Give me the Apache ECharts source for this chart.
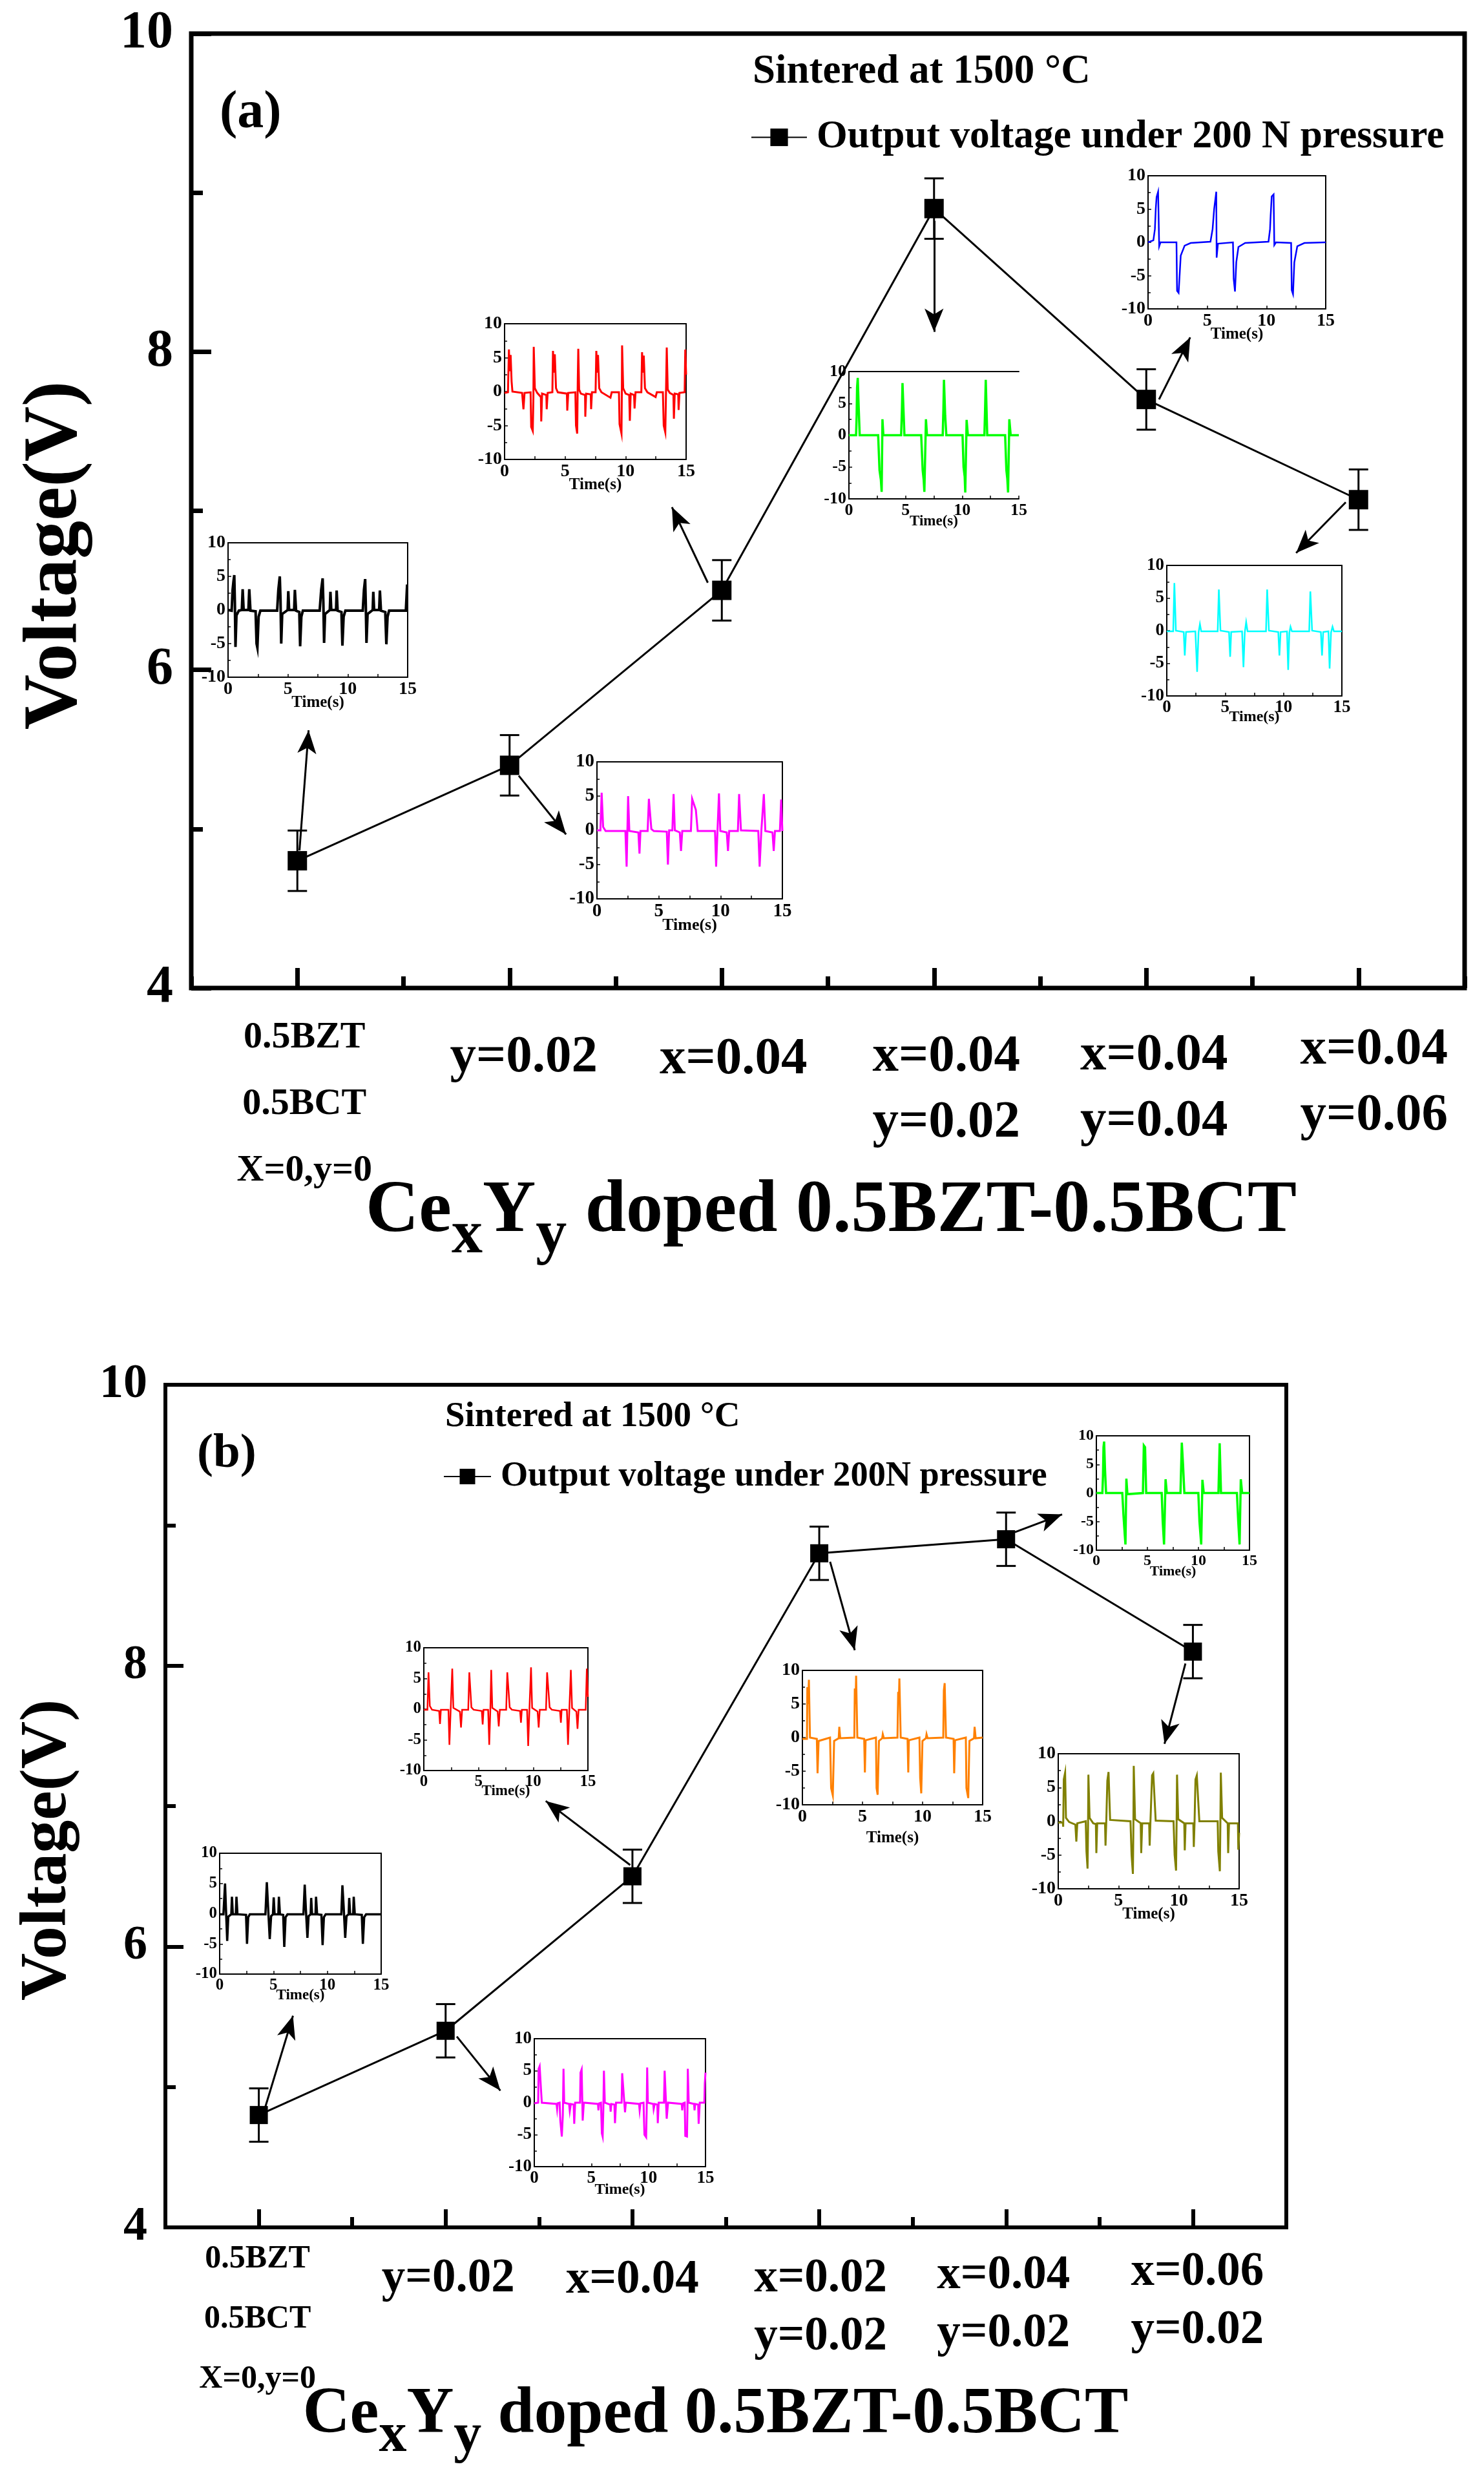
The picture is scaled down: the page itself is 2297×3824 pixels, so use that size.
<!DOCTYPE html>
<html>
<head>
<meta charset="utf-8">
<style>html,body{margin:0;padding:0;background:#fff}#c{width:2297px;height:3824px}</style>
<script src="https://cdn.jsdelivr.net/npm/echarts@6/dist/echarts.min.js"></script>
</head>
<body>
<div id="c"></div>
<script>
// ---- Main panel values ----
const categoriesA = ['0.5BZT\n0.5BCT\nX=0,y=0', 'y=0.02', 'x=0.04', 'x=0.04\ny=0.02', 'x=0.04\ny=0.04', 'x=0.04\ny=0.06'];
const categoriesB = ['0.5BZT\n0.5BCT\nX=0,y=0', 'y=0.02', 'x=0.04', 'x=0.02\ny=0.02', 'x=0.04\ny=0.02', 'x=0.06\ny=0.02'];
const voltageA = [4.8, 5.4, 6.5, 8.9, 7.7, 7.07];
const voltageB = [4.8, 5.4, 6.5, 8.8, 8.9, 8.1];
const errorA = [0.19, 0.19, 0.19, 0.19, 0.19, 0.19];
const errorB = [0.19, 0.19, 0.19, 0.19, 0.19, 0.19];
const arrowsA = [[0.01,4.865,0.053,5.62],[1.043,5.335,1.266,4.966],[1.934,6.548,1.765,7.023],[3.0,8.823,3.0,8.125],[4.06,7.70,4.207,8.09],[4.94,7.054,4.706,6.735]];
const arrowsB = [[0.03,4.836,0.183,5.507],[1.06,5.359,1.293,4.974],[1.988,6.58,1.536,7.036],[3.058,8.74,3.19,8.11],[4.047,8.95,4.3,9.077],[4.96,8.015,4.848,7.443]];

// ---- Inset traces: [time, voltage] ----
const traceBlackA = [[0,0],[0.3,-0.1],[0.38,3],[0.45,4.2],[0.52,5.2],[0.57,1],[0.62,-5.5],[0.7,-0.8],[0.9,-0.1],[1.15,0],[1.22,3.1],[1.3,0],[1.7,0],[1.77,3.1],[1.87,-0.1],[2.3,-0.2],[2.38,-5],[2.45,-5.6],[2.55,-1],[2.7,-0.1],[4.1,-0.1],[4.2,3],[4.32,5],[4.38,1.5],[4.44,-5],[4.52,-0.6],[4.98,0],[5.03,2.8],[5.1,0],[5.52,0],[5.58,3],[5.68,-0.1],[5.95,-0.3],[6.02,-5.4],[6.12,-1],[6.25,-0.1],[7.65,-0.1],[7.78,3],[7.9,4.7],[7.96,1],[8.02,-4.9],[8.1,-0.6],[8.5,0],[8.55,2.7],[8.62,0],[9.02,0],[9.07,2.9],[9.15,-0.1],[9.47,-0.3],[9.55,-5.3],[9.65,-1],[9.8,-0.1],[11.25,-0.1],[11.35,3],[11.45,4.6],[11.5,1],[11.56,-4.9],[11.65,-0.6],[12.08,0],[12.13,2.7],[12.2,0],[12.62,0],[12.68,2.9],[12.77,-0.1],[13.13,-0.3],[13.22,-5.1],[13.32,-1],[13.45,-0.1],[14.85,-0.1],[14.95,3.6],[15,3.6]];
const traceRedA = [[0,-0.2],[0.28,-0.1],[0.36,6.2],[0.42,3],[0.5,5.4],[0.58,1.5],[0.65,0],[1.45,-0.2],[1.56,-2.6],[1.65,-0.2],[2.15,-0.1],[2.2,-5.2],[2.33,-5.8],[2.38,-1],[2.41,6.6],[2.5,0.5],[2.7,-0.2],[3.0,-0.8],[3.03,-4.4],[3.1,-0.3],[3.45,-0.5],[3.48,-2.6],[3.56,-0.2],[3.95,-0.1],[4.0,6],[4.08,2.8],[4.15,5.5],[4.25,0.5],[4.4,-0.1],[5.15,-0.3],[5.18,-2.8],[5.26,-0.2],[5.85,-0.1],[5.9,-5],[6.0,-6.2],[6.05,2],[6.09,6.3],[6.16,0.3],[6.3,-0.3],[6.65,-0.5],[6.67,-3.7],[6.74,-0.3],[7.12,-0.4],[7.15,-2.6],[7.22,-0.1],[7.52,-0.1],[7.58,6],[7.65,2.8],[7.72,5.4],[7.82,0.5],[8.0,-0.1],[8.75,-0.9],[8.85,-0.1],[9.45,-0.1],[9.5,-4.8],[9.66,-6.2],[9.69,0],[9.71,6.8],[9.8,0.5],[10.0,-0.3],[10.3,-0.5],[10.35,-4.3],[10.42,-0.3],[10.7,-0.5],[10.74,-2.5],[10.82,-0.1],[11.3,-0.1],[11.36,5.8],[11.43,2.8],[11.5,5.3],[11.6,0.5],[11.8,-0.1],[12.48,-0.8],[12.58,-0.1],[13.08,-0.1],[13.15,-5],[13.28,-6],[13.33,-1],[13.4,6.5],[13.48,0.3],[13.65,-0.2],[13.95,-0.5],[13.99,-4],[14.06,-0.3],[14.35,-0.4],[14.38,-2.7],[14.45,-0.2],[14.88,-0.1],[14.93,6.2],[15,2.5]];
const traceGreenA = [[0,0],[0.63,0],[0.68,3],[0.72,7.5],[0.78,9],[0.85,5],[0.95,0],[2.58,0],[2.7,-5.5],[2.82,-7],[2.89,-8.9],[2.96,2.5],[3.04,0],[4.61,0],[4.68,4],[4.73,8.2],[4.82,8],[4.9,0],[6.38,0],[6.51,-5.5],[6.6,-7],[6.66,-8.9],[6.8,2.5],[6.89,0],[8.28,0],[8.34,4],[8.39,8.7],[8.5,3],[8.6,0],[10.03,0],[10.12,-5],[10.22,-6.5],[10.27,-9],[10.39,2.4],[10.5,0],[11.96,0],[12.02,4],[12.08,8.7],[12.21,0],[13.79,0],[13.9,-5.5],[13.98,-6.8],[14.05,-9],[14.16,2.5],[14.28,0],[15,0]];
const traceBlueA = [[0,0],[0.45,0.3],[0.58,2],[0.65,5],[0.72,6.8],[0.85,7.6],[0.94,-0.6],[1.05,0],[2.4,0],[2.45,-7.3],[2.58,-7.6],[2.76,-2],[3.09,-0.5],[3.6,-0.1],[5.27,0.1],[5.45,2],[5.58,5],[5.76,7.6],[5.79,-2.3],[5.9,-0.2],[7.17,0],[7.23,-5.5],[7.34,-7.4],[7.45,-3],[7.63,-0.7],[8.2,-0.1],[10.17,0.1],[10.3,2],[10.35,4],[10.44,6.9],[10.6,7.2],[10.66,-0.4],[10.8,0],[12.08,-0.1],[12.13,-7.2],[12.24,-7.8],[12.35,-3],[12.6,-0.6],[13.2,-0.1],[15,0]];
const traceMagentaA = [[0,0],[0.28,0],[0.38,5.5],[0.5,0.5],[0.7,-0.1],[2.3,-0.1],[2.4,-5.3],[2.52,5],[2.62,-0.1],[3.35,-0.3],[3.44,-3.4],[3.52,-0.1],[4.1,-0.1],[4.2,4.6],[4.4,0.2],[4.6,-0.1],[5.65,-0.2],[5.74,-5],[5.84,0],[6.1,0],[6.2,5.3],[6.3,0],[6.7,-0.3],[6.8,-3],[6.9,-0.1],[7.6,-0.1],[7.7,4.6],[8.0,3],[8.15,-0.1],[9.55,-0.1],[9.64,-5.3],[9.75,-0.1],[9.87,5.4],[9.98,-0.1],[10.5,-0.3],[10.6,-3],[10.7,-0.1],[11.4,-0.1],[11.5,5.3],[11.65,0],[13.05,-0.1],[13.16,-5.3],[13.3,0],[13.5,5.3],[13.62,-0.1],[14.2,-0.3],[14.3,-3],[14.4,-0.1],[14.8,-0.1],[14.9,4.5],[15,-0.1]];
const traceCyanA = [[0,-0.1],[0.55,-0.1],[0.65,7.3],[0.78,0],[1.45,-0.2],[1.54,-3.8],[1.65,-0.2],[2.45,-0.1],[2.6,-6.3],[2.72,-0.3],[2.84,1],[2.95,-0.1],[4.36,-0.1],[4.46,6.3],[4.6,0],[5.33,-0.2],[5.43,-4],[5.52,-0.2],[6.45,-0.1],[6.57,-5.6],[6.68,-0.3],[6.8,1.3],[6.92,-0.1],[8.5,-0.1],[8.6,6.3],[8.75,0],[9.55,-0.2],[9.65,-3.8],[9.75,-0.2],[10.3,-0.1],[10.4,-6],[10.5,-0.3],[10.6,0.6],[10.72,-0.1],[12.2,-0.1],[12.3,6],[12.45,0],[13.2,-0.2],[13.3,-3.8],[13.4,-0.2],[13.85,-0.1],[13.95,-5.8],[14.07,-0.3],[14.2,0.6],[14.32,-0.1],[15,-0.1]];
const traceBlackB = [[0,-0.1],[0.35,-0.1],[0.5,5],[0.58,1],[0.7,-4.5],[0.8,-0.5],[1.08,-0.1],[1.14,2.8],[1.22,-0.1],[1.5,-0.1],[1.56,2.8],[1.65,-0.1],[2.45,-0.2],[2.54,-5],[2.65,-0.6],[2.8,-0.1],[4.25,-0.1],[4.38,5.2],[4.5,1],[4.65,-4.2],[4.78,-0.4],[4.95,-0.1],[5.02,2.7],[5.1,-0.1],[5.45,-0.1],[5.5,2.8],[5.6,-0.1],[5.9,-0.2],[6,-5.5],[6.12,-0.6],[6.3,-0.1],[7.78,-0.1],[7.9,4.8],[8,1],[8.15,-4],[8.26,-0.4],[8.45,-0.1],[8.5,2.6],[8.58,-0.1],[8.9,-0.1],[8.95,2.8],[9.05,-0.1],[9.45,-0.2],[9.56,-5.2],[9.68,-0.6],[9.85,-0.1],[11.3,-0.1],[11.4,4.7],[11.52,1],[11.66,-4],[11.78,-0.4],[11.98,-0.1],[12.03,2.6],[12.12,-0.1],[12.4,-0.1],[12.45,2.8],[12.55,-0.1],[13.2,-0.2],[13.3,-5],[13.42,-0.6],[13.6,-0.1],[15,-0.1]];
const traceRedB = [[0,-0.1],[0.33,-0.1],[0.43,6],[0.55,0.5],[0.75,-0.1],[1.4,-0.3],[1.48,-2.4],[1.56,-0.1],[2.25,-0.1],[2.34,-5.8],[2.45,-0.3],[2.6,6.6],[2.7,0.2],[3.3,-0.4],[3.4,-3],[3.5,-0.1],[4.06,-0.1],[4.16,6],[4.35,0.3],[4.55,-0.1],[5.3,-0.3],[5.38,-2.5],[5.46,-0.1],[5.88,-0.1],[5.98,-5.8],[6.08,-0.2],[6.16,6.4],[6.26,0.2],[6.75,-0.4],[6.85,-2.8],[6.95,-0.1],[7.53,-0.1],[7.63,6],[7.85,0.3],[8.05,-0.1],[8.8,-0.3],[8.88,-2.2],[8.96,-0.1],[9.44,-0.1],[9.54,-6],[9.65,-0.2],[9.8,6.8],[9.9,0.2],[10.4,-0.4],[10.5,-3],[10.6,-0.1],[11.17,-0.1],[11.27,6],[11.5,0.3],[11.7,-0.1],[12.45,-0.3],[12.53,-2.2],[12.6,-0.1],[13.08,-0.1],[13.18,-5.8],[13.3,-0.2],[13.44,6.4],[13.55,0.2],[13.95,-0.4],[14.05,-3.2],[14.15,-0.1],[14.8,-0.1],[14.9,6.6],[15,2]];
const traceMagentaB = [[0,-0.1],[0.34,0],[0.38,5.3],[0.47,5.7],[0.58,2.3],[0.66,0],[1.95,-0.2],[2,-1],[2.05,-0.1],[2.22,0],[2.28,-2.8],[2.41,-5.3],[2.5,-2],[2.56,5.3],[2.62,0],[3.05,-0.2],[3.11,-1.3],[3.2,-0.2],[3.45,-0.3],[3.5,-3.3],[3.58,0],[4.01,0],[4.05,4.7],[4.15,5.2],[4.24,-2.8],[4.34,0],[5.58,-0.2],[5.62,-1.2],[5.68,-0.1],[5.84,0],[5.92,-4.8],[5.99,-5.3],[6.05,-1],[6.1,5],[6.18,0],[6.65,-0.3],[6.69,-1.4],[6.75,-0.2],[7.02,-0.3],[7.07,-3.2],[7.16,0],[7.65,0],[7.7,4.6],[7.78,4.4],[7.95,-1.5],[8.02,0],[9.18,-0.2],[9.23,-1.2],[9.3,-0.1],[9.57,0],[9.65,-5],[9.8,-5.4],[9.85,-1],[9.89,5.5],[9.95,0],[10.42,-0.2],[10.46,-1],[10.55,-0.2],[10.78,-0.3],[10.82,-3.2],[10.9,0],[11.36,0],[11.42,5],[11.5,5],[11.6,-2.5],[11.72,0],[12.92,-0.2],[12.96,-1.2],[13.03,-0.1],[13.18,0],[13.23,-5.2],[13.38,-5.3],[13.42,-1],[13.45,5.3],[13.53,0],[14,-0.2],[14.04,-1.2],[14.1,-0.2],[14.36,-0.3],[14.4,-3.3],[14.5,0],[14.9,0],[14.94,3],[15,4.7]];
const traceOrangeB = [[0,-0.2],[0.38,-0.2],[0.41,7.5],[0.47,5],[0.54,8.6],[0.63,0],[1.2,-0.2],[1.26,-5.3],[1.35,-0.5],[2.3,0],[2.39,-7.5],[2.53,-8.6],[2.64,-0.5],[3.02,-0.1],[3.07,1.6],[3.15,-0.1],[4.32,0],[4.36,7.3],[4.42,5],[4.47,9.2],[4.57,0],[5.14,-0.2],[5.2,-5.2],[5.26,-0.4],[6.12,0],[6.17,-7.5],[6.26,-8.5],[6.37,-0.5],[6.64,-0.1],[6.69,0.5],[6.78,-0.1],[7.91,0],[7.97,6.8],[8.02,5],[8.07,8.8],[8.18,0],[8.75,-0.2],[8.81,-5.2],[8.86,-0.4],[9.74,0],[9.8,-6],[9.89,-8.3],[9.99,-0.5],[10.28,-0.1],[10.33,0.5],[10.42,-0.1],[11.72,0],[11.77,7],[11.84,8.1],[11.95,0],[12.58,-0.2],[12.63,-5.3],[12.7,-0.4],[13.6,0],[13.65,-7.5],[13.8,-9],[13.9,-0.5],[14.28,-0.1],[14.33,1.6],[14.42,-0.1],[15,0]];
const traceGreenB = [[0,0],[0.59,0],[0.65,3],[0.7,8],[0.76,9],[0.85,4],[0.95,0],[2.54,0],[2.66,-4],[2.79,-7.5],[2.85,-9],[2.94,2.5],[3.04,-0.2],[4.56,0],[4.65,8.3],[4.77,8],[4.88,0],[6.4,0],[6.5,-5],[6.63,-9],[6.78,2.4],[6.9,0],[8.24,0],[8.37,8.8],[8.49,5],[8.62,0],[9.99,0],[10.1,-5],[10.27,-9],[10.39,2.3],[10.52,0],[11.96,0],[12.08,8.7],[12.21,0],[13.77,0],[13.9,-5],[14.03,-9],[14.15,2.4],[14.28,0],[15,0]];
const traceOliveB = [[0,-0.2],[0.38,-0.2],[0.41,-0.8],[0.46,6.2],[0.57,7.2],[0.64,0.5],[0.9,-0.1],[1.42,-0.5],[1.5,-3],[1.58,-0.3],[2.28,0],[2.34,-4.5],[2.43,-7],[2.47,-1],[2.5,6.9],[2.6,0.5],[2.9,-0.3],[3.12,-0.4],[3.16,-4.7],[3.23,-0.3],[3.88,-0.3],[3.92,-3.6],[3.98,-0.3],[4.07,6],[4.17,7.3],[4.3,0.2],[5.99,0],[6.08,-5],[6.19,-7.8],[6.23,-1],[6.26,8.2],[6.37,0.3],[6.84,-0.3],[6.88,-4.7],[6.96,-0.3],[7.54,-0.3],[7.58,-3.6],[7.64,-0.3],[7.78,6.8],[7.88,7.1],[8.08,0.1],[9.56,0],[9.65,-5],[9.77,-7.3],[9.81,-1],[9.85,6.9],[9.95,0.3],[10.45,-0.3],[10.49,-4.3],[10.56,-0.3],[11.2,-0.3],[11.24,-3.8],[11.3,-0.3],[11.38,6.2],[11.49,6.8],[11.7,0],[13.22,0],[13.27,-4.5],[13.4,-7.4],[13.44,-1],[13.48,7.2],[13.59,0.5],[14.05,-0.3],[14.09,-4.7],[14.16,-0.3],[14.9,-0.3],[14.93,-4.2],[15,-1.7]];

// ---- Layout (kept apart from the data) ----
const serif = '"Liberation Serif","Times New Roman",serif';
const panels = [
  {grid:{left:296,top:52,width:1971,height:1477}, cats:categoriesA, v:voltageA, err:errorA, arrows:arrowsA, name:'Output voltage under 200 N pressure',
   frame:7, tick:31, minor:18, tickFont:82, nameFont:118, nameGap:150, namePad:[0,138,0,0], titleFont:114, titleSub:96, titleDrop:46, titleGap:290, titlePad:[0,0,0,10],
   first:{font:58,lh:103,pad:[26,0,0,22]}, lab:{font:81,lh:102}, pads:[[0,0,0,0],[57,0,0,44],[60,0,0,36],[56,0,0,38],[54,0,0,24],[45,0,0,48]],
   sq:30, legend:{left:1162,top:182,w:86,h:34,font:61.4}},
  {grid:{left:256,top:2143,width:1735,height:1304}, cats:categoriesB, v:voltageB, err:errorB, arrows:arrowsB, name:'Output voltage under 200N pressure',
   frame:6, tick:28, minor:16, tickFont:74, nameFont:102, nameGap:130, namePad:[0,136,0,0], titleFont:101, titleSub:86, titleDrop:41, titleGap:240, titlePad:[0,32,0,0],
   first:{font:50,lh:93,pad:[3,4,0,0]}, lab:{font:73,lh:90}, pads:[[0,0,0,0],[35,0,0,8],[37,0,0,0],[35,0,0,4],[30,8,0,0],[25,0,0,14]],
   sq:28, legend:{left:686,top:2258,w:73,h:30,font:54.3}}
];
const insets = [
  {d:traceBlackA,  c:'#000000', lw:4,   box:[353,840,278,208],  gap:27},
  {d:traceRedA,    c:'#ff0000', lw:3,   box:[781,501,281,210],  gap:27},
  {d:traceGreenA,  c:'#00ff00', lw:3.5, box:[1314,575,263,197], gap:24, noRight:true},
  {d:traceBlueA,   c:'#0000ff', lw:2.5, box:[1777,272,275,206], gap:27},
  {d:traceMagentaA,c:'#ff00ff', lw:3,   box:[924,1179,287,212], gap:28},
  {d:traceCyanA,   c:'#00ffff', lw:2.5, box:[1806,875,271,202], gap:21},
  {d:traceBlackB,  c:'#000000', lw:3.5, box:[340,2868,250,187], gap:22},
  {d:traceRedB,    c:'#ff0000', lw:2.5, box:[656,2550,254,190], gap:21},
  {d:traceMagentaB,c:'#ff00ff', lw:3,   box:[827,3155,265,198], gap:24},
  {d:traceOrangeB, c:'#ff8000', lw:3,   box:[1242,2585,279,208],gap:39},
  {d:traceGreenB,  c:'#00ff00', lw:3.5, box:[1697,2222,237,177],gap:22},
  {d:traceOliveB,  c:'#808000', lw:3,   box:[1638,2714,280,209],gap:27}
];

const grids=[], xAxes=[], yAxes=[], series=[], legends=[];

function errRender(params, api){
  const x=api.value(0), lo=api.value(1), hi=api.value(2);
  const a=api.coord([x,lo]), b=api.coord([x,hi]);
  const s={stroke:'#000',lineWidth:3,fill:'none'}, w=15;
  return {type:'group',children:[
    {type:'line',shape:{x1:a[0],y1:a[1],x2:b[0],y2:b[1]},style:s},
    {type:'line',shape:{x1:a[0]-w,y1:a[1],x2:a[0]+w,y2:a[1]},style:s},
    {type:'line',shape:{x1:b[0]-w,y1:b[1],x2:b[0]+w,y2:b[1]},style:s}
  ]};
}

panels.forEach((p)=>{
  const g=grids.length;
  grids.push({left:p.grid.left,top:p.grid.top,width:p.grid.width,height:p.grid.height,show:true,backgroundColor:'transparent',borderColor:'#000',borderWidth:p.frame,containLabel:false,outerBoundsMode:'none'});
  const xMain=xAxes.length;
  const data=p.cats.map((c,i)=>{
    const f=i===0?p.first:p.lab;
    return {value:c,textStyle:{fontSize:f.font,lineHeight:f.lh,padding:i===0?p.first.pad:p.pads[i]}};
  });
  xAxes.push({type:'category',gridIndex:g,data:data,position:'bottom',
    axisLine:{show:false,onZero:false},
    axisTick:{show:true,inside:true,alignWithLabel:true,length:p.tick,lineStyle:{color:'#000',width:p.frame}},
    axisLabel:{show:true,interval:0,margin:0,color:'#000',fontFamily:serif,fontWeight:'bold',fontSize:p.lab.font,verticalAlign:'top',hideOverlap:false},
    splitLine:{show:false},
    name:'{a|Ce}{s|x}{a|Y}{s|y}{a| doped 0.5BZT-0.5BCT}',nameLocation:'middle',nameGap:p.titleGap,nameMoveOverlap:false,
    nameTextStyle:{padding:p.titlePad,rich:{
      a:{fontFamily:serif,fontWeight:'bold',fontSize:p.titleFont,lineHeight:p.titleFont*1.05,verticalAlign:'top',color:'#000'},
      s:{fontFamily:serif,fontWeight:'bold',fontSize:p.titleSub,lineHeight:p.titleSub,verticalAlign:'top',padding:[p.titleDrop,0,0,0],color:'#000'}
    }}
  });
  xAxes.push({type:'category',gridIndex:g,data:p.cats.map(c=>c),position:'bottom',
    axisLine:{show:false,onZero:false},axisLabel:{show:false},splitLine:{show:false},
    axisTick:{show:true,inside:true,alignWithLabel:false,interval:0,length:p.minor,lineStyle:{color:'#000',width:p.frame}}});
  const xHidden=xAxes.length;
  xAxes.push({type:'value',gridIndex:g,min:-0.5,max:5.5,show:false,splitLine:{show:false}});
  const yIdx=yAxes.length;
  yAxes.push({type:'value',gridIndex:g,min:4,max:10,interval:2,position:'left',
    axisLine:{show:false,onZero:false},
    axisTick:{show:true,inside:true,length:p.tick,lineStyle:{color:'#000',width:p.frame}},
    minorTick:{show:true,splitNumber:2,length:p.minor,lineStyle:{color:'#000',width:p.frame}},
    axisLabel:{color:'#000',fontFamily:serif,fontWeight:'bold',fontSize:p.tickFont,margin:28,showMinLabel:true,showMaxLabel:true},
    splitLine:{show:false},minorSplitLine:{show:false},
    name:'Voltage(V)',nameLocation:'middle',nameGap:p.nameGap,nameMoveOverlap:false,
    nameTextStyle:{color:'#000',fontFamily:serif,fontWeight:'bold',fontSize:p.nameFont,padding:p.namePad}
  });
  series.push({type:'custom',xAxisIndex:xHidden,yAxisIndex:yIdx,z:3,animation:false,silent:true,renderItem:errRender,
    data:p.v.map((v,i)=>[i,v-p.err[i],v+p.err[i]]),encode:{x:0,y:[1,2]},
    markLine:{silent:true,animation:false,symbol:['none','arrow'],symbolSize:[22,36],precision:4,
      lineStyle:{color:'#000',type:'solid',width:3},label:{show:false},
      data:p.arrows.map(a=>[{coord:[a[0],a[1]]},{coord:[a[2],a[3]]}])}});
  series.push({type:'line',name:p.name,xAxisIndex:xMain,yAxisIndex:yIdx,data:p.v,z:4,animation:false,
    symbol:'rect',symbolSize:p.sq,showSymbol:true,lineStyle:{color:'#000',width:3},itemStyle:{color:'#000'}});
  legends.push({data:[p.name],left:p.legend.left,top:p.legend.top,padding:0,itemWidth:p.legend.w,itemHeight:p.legend.h,
    textStyle:{color:'#000',fontFamily:serif,fontWeight:'bold',fontSize:p.legend.font,padding:[0,0,0,10]}});
});

insets.forEach((ins)=>{
  const g=grids.length, b=ins.box, fs=Math.round(b[2]*0.1);
  grids.push({left:b[0],top:b[1],width:b[2],height:b[3],show:false,containLabel:false,outerBoundsMode:'none'});
  const line={show:true,onZero:false,lineStyle:{color:'#000',width:2}};
  const tickLine={color:'#000',width:1.5};
  const xi=xAxes.length, yi=yAxes.length;
  xAxes.push({type:'value',gridIndex:g,min:0,max:15,interval:5,position:'bottom',axisLine:line,
    axisTick:{show:true,inside:true,length:5,lineStyle:tickLine},
    minorTick:{show:true,splitNumber:2,length:5,lineStyle:tickLine},
    axisLabel:{color:'#000',fontFamily:serif,fontWeight:'bold',fontSize:fs,margin:5,showMinLabel:true,showMaxLabel:true},
    splitLine:{show:false},minorSplitLine:{show:false},
    name:'Time(s)',nameLocation:'middle',nameGap:ins.gap,nameMoveOverlap:false,
    nameTextStyle:{color:'#000',fontFamily:serif,fontWeight:'bold',fontSize:Math.round(fs*0.9)}});
  xAxes.push({type:'value',gridIndex:g,min:0,max:15,position:'top',axisLine:line,axisTick:{show:false},axisLabel:{show:false},splitLine:{show:false}});
  yAxes.push({type:'value',gridIndex:g,min:-10,max:10,interval:5,position:'left',axisLine:line,
    axisTick:{show:true,inside:true,length:5,lineStyle:tickLine},
    minorTick:{show:true,splitNumber:2,length:4,lineStyle:tickLine},
    axisLabel:{color:'#000',fontFamily:serif,fontWeight:'bold',fontSize:fs,margin:4,showMinLabel:true,showMaxLabel:true},
    splitLine:{show:false},minorSplitLine:{show:false}});
  yAxes.push({type:'value',gridIndex:g,min:-10,max:10,position:'right',
    axisLine:{show:!ins.noRight,onZero:false,lineStyle:{color:'#000',width:2}},axisTick:{show:false},axisLabel:{show:false},splitLine:{show:false}});
  series.push({type:'line',xAxisIndex:xi,yAxisIndex:yi,data:ins.d,z:5,animation:false,silent:true,symbol:'none',showSymbol:false,clip:true,
    lineStyle:{color:ins.c,width:ins.lw,join:'miter'},itemStyle:{color:ins.c}});
});

const notes=[
  {t:'Sintered at 1500 °C',x:1165,y:117,f:63},
  {t:'(a)',x:340,y:182,f:82},
  {t:'Sintered at 1500 °C',x:689,y:2197,f:55},
  {t:'(b)',x:305,y:2257,f:75}
];

const chart=echarts.init(document.getElementById('c'),null,{renderer:'canvas',width:2297,height:3824});
chart.setOption({
  animation:false,backgroundColor:'#fff',
  grid:grids,xAxis:xAxes,yAxis:yAxes,series:series,legend:legends,
  tooltip:{show:false},
  graphic:notes.map(n=>({type:'text',left:n.x,top:n.y-n.f*0.58,z:10,silent:true,
    style:{text:n.t,fill:'#000',font:'bold '+n.f+'px '+serif}}))
});
</script>
</body>
</html>
